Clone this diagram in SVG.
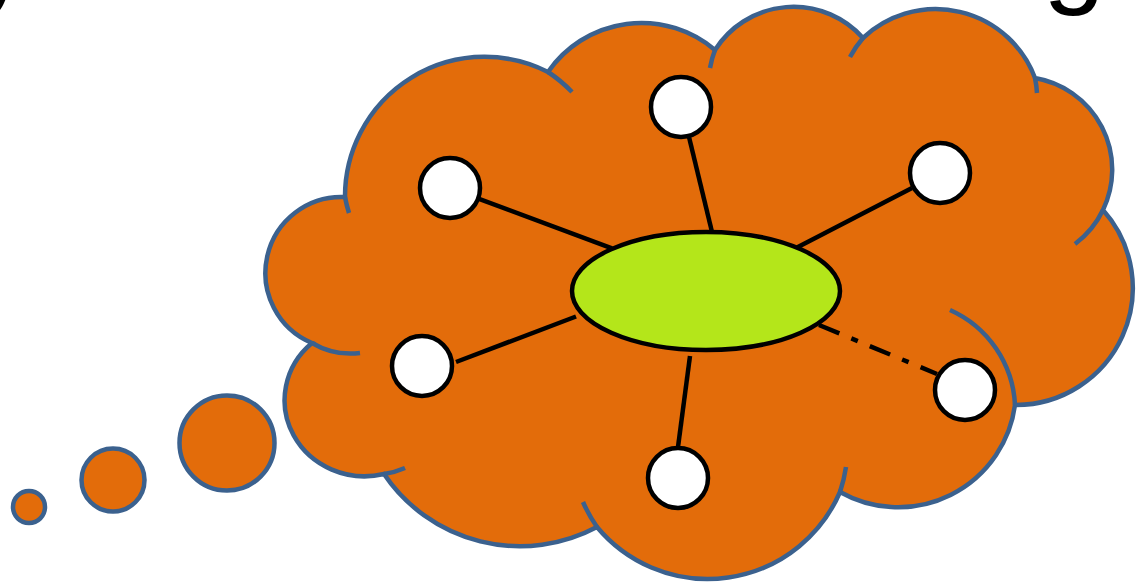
<svg xmlns="http://www.w3.org/2000/svg" width="1137" height="586" viewBox="0 0 1137 586">
<style>
.cloud{fill:#E36C0A;stroke:#3B618E;stroke-width:4.5}
.stub{fill:none;stroke:#3B618E;stroke-width:4.5}
.node{fill:#FFFFFF;stroke:#000000;stroke-width:4.5}
.hub{fill:#B4E61A;stroke:#000000;stroke-width:4.5}
.edge{stroke:#000000;stroke-width:4.5;fill:none}
.dashdot{stroke-dasharray:22 13 7 13}
.title{font-family:"Liberation Sans",Arial,sans-serif;fill:#000000}
</style>
<rect width="1137" height="586" fill="#FFFFFF"/>
<g id="title-fragments">
<text class="title" x="-24" y="-4" font-size="105">y</text>
<text class="title" x="1043" y="-7" font-size="112">g</text>
</g>
<g id="cloud">
<path class="cloud" d="M345,197 A139.7,139.7 0 0 1 548,72 A113.5,113.5 0 0 1 715,50 A93,93 0 0 1 863,38 A106,106 0 0 1 1035,78 A93,93 0 0 1 1103,210 A117,117 0 0 1 1015,405 A118,118 0 0 1 840,492 A144,144 0 0 1 597,527 A164,164 0 0 1 384,474 A80,76 0 0 1 312,343 A76,76 0 0 1 345,197 Z"/>
<path class="stub" d="M345,197 A139.7,139.7 0 0 0 349,213 M548,72 A139.7,139.7 0 0 1 572,92 M715,50 A93,93 0 0 0 710,68 M863,38 A106,106 0 0 0 850,57 M1035,78 A106,106 0 0 1 1037,93 M1103,210 A93,93 0 0 1 1075,244 M950,310 A110,110 0 0 1 1015,405 M840,492 A144,144 0 0 0 846,467 M597,527 A144,144 0 0 1 583,502 M384,474 A80,76 0 0 0 405,468 M312,343 A76,76 0 0 0 360,353"/>
</g>
<g id="bubbles">
<circle class="cloud" cx="227" cy="443" r="47.5"/>
<circle class="cloud" cx="113" cy="480" r="31.5"/>
<circle class="cloud" cx="29" cy="507" r="16"/>
</g>
<g id="connectors">
<line class="edge" x1="479" y1="198.8" x2="612" y2="248.3"/>
<line class="edge" x1="689" y1="137" x2="712" y2="232"/>
<line class="edge" x1="912" y1="188" x2="796" y2="248"/>
<line class="edge" x1="456" y1="362" x2="576" y2="316.5"/>
<line class="edge" x1="678" y1="447" x2="690" y2="356"/>
<line class="edge dashdot" x1="819" y1="325" x2="937" y2="374"/>
</g>
<g id="hub"><ellipse class="hub" cx="706" cy="291" rx="134" ry="59"/></g>
<g id="node-top-left"><circle class="node" cx="450" cy="188" r="30"/></g>
<g id="node-top"><circle class="node" cx="681" cy="107" r="30"/></g>
<g id="node-top-right"><circle class="node" cx="940" cy="173" r="30"/></g>
<g id="node-left"><circle class="node" cx="422" cy="366" r="30"/></g>
<g id="node-bottom"><circle class="node" cx="678" cy="478" r="30"/></g>
<g id="node-right"><circle class="node" cx="965" cy="390" r="30"/></g>
</svg>
